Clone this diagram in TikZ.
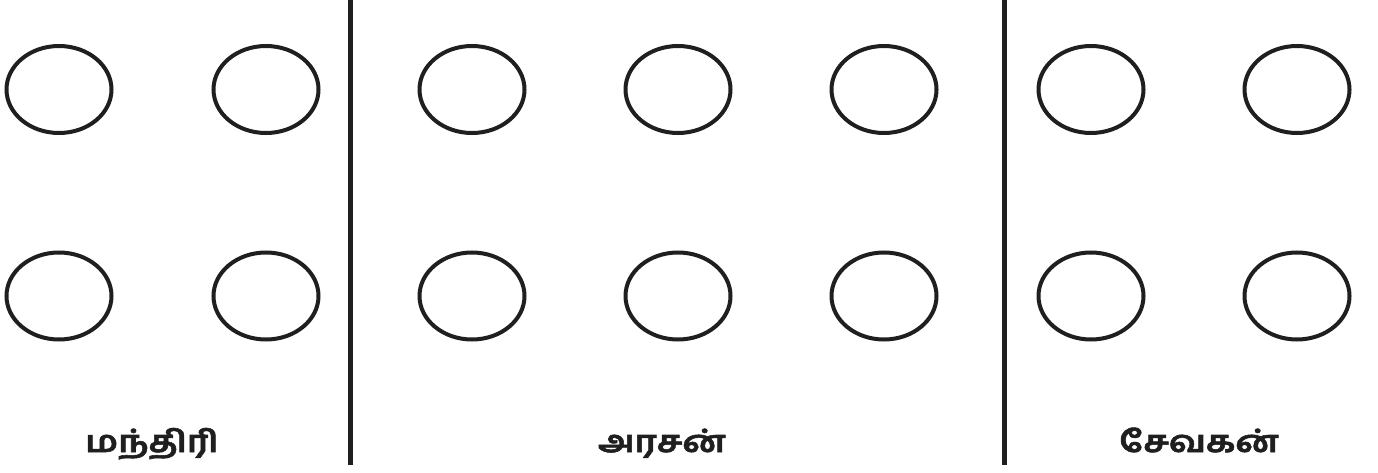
\documentclass[tikz,border=0pt]{standalone}
\usepackage{fontspec}
\newfontfamily\tamil[Script=Tamil,FakeStretch=1.2,BoldFeatures={FakeBold=1.8}]{Hind Madurai}
\usetikzlibrary{shapes.geometric}
\begin{document}
\begin{tikzpicture}[x=1pt,y=1pt,
  cell/.style={draw=black!88,line width=4pt,ellipse,minimum width=105pt,minimum height=87pt,inner sep=0pt},
  divider/.style={draw=black!88,line width=5pt},
  label/.style={font=\tamil\bfseries\fontsize{30}{36}\selectfont,text=black!88,anchor=base}]
\useasboundingbox (0,0) rectangle (1378,472);
\foreach \x [count=\i] in {59,266,472,678,884,1091,1297}{
  \node[cell] (t\i) at (\x,382.5) {};
  \node[cell] (b\i) at (\x,176) {};
}
\coordinate (d1top) at (350.5,472);
\coordinate (d1bot) at (350.5,7);
\coordinate (d2top) at (1004,472);
\coordinate (d2bot) at (1004,7);
\draw[divider] (d1top) -- (d1bot);
\draw[divider] (d2top) -- (d2bot);
\node[label] (l1) at (152,20) {மந்திரி};
\node[label] (l2) at (662,20) {அரசன்};
\node[label] (l3) at (1199,20) {சேவகன்};
\end{tikzpicture}
\end{document}
